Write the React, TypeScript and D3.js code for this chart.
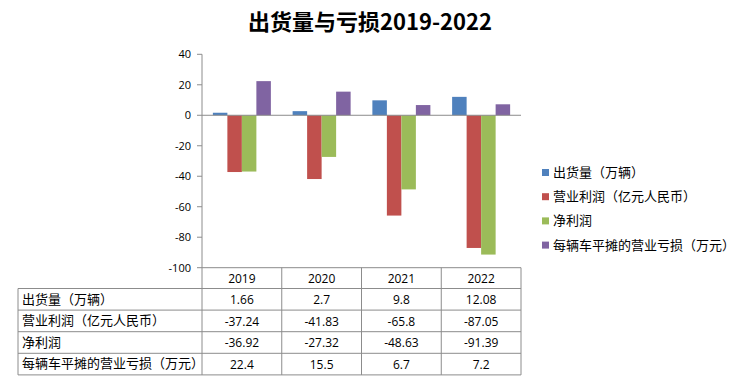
import React from "react";
import * as d3 from "d3";

const years = ["2019", "2020", "2021", "2022"];
const seriesNames = ["出货量（万辆）", "营业利润（亿元人民币）", "净利润", "每辆车平摊的营业亏损（万元）"];
const shipments = [1.66, 2.7, 9.8, 12.08];
const operatingProfit = [-37.24, -41.83, -65.8, -87.05];
const netProfit = [-36.92, -27.32, -48.63, -91.39];
const lossPerVehicle = [22.4, 15.5, 6.7, 7.2];
const yTicks = [40, 20, 0, -20, -40, -60, -80, -100];
const colors = ["#4F81BD", "#C0504D", "#9BBB59", "#8064A2"];
const title = "出货量与亏损2019-2022";

const W = 740, H = 381;
const plotL = 202, plotR = 521, plotT = 54.3, plotB = 267.7;
const tableL = 18;
const rowH = 21.6;
const CJK = "'Noto Sans CJK SC', 'Noto Sans', sans-serif";
const NUM = "'Open Sans', 'Noto Sans', sans-serif";
const GRID = "#8c8c8c";

export default function App() {
  const series = [shipments, operatingProfit, netProfit, lossPerVehicle];
  const x0 = d3.scaleBand().domain(years).range([plotL, plotR]).paddingInner(0).paddingOuter(0);
  const innerPad = (x0.bandwidth() - 58) / 2;
  const x1 = d3.scaleBand().domain(d3.range(4).map(String)).range([innerPad, x0.bandwidth() - innerPad]).padding(0);
  const y = d3.scaleLinear().domain([-100, 40]).range([plotB, plotT]);
  const labelsFmt = (v: number) => String(v);

  const rowTops = d3.range(5).map((i) => plotB + 20.8 + i * rowH);

  return (
    <svg width={W} height={H} style={{ position: "absolute", left: 0, top: 0, background: "#fff" }}>
      <text x={370} y={30} textAnchor="middle" fontFamily={CJK} fontWeight="bold" fontSize={22} fill="#000">
        {title}
      </text>
      {/* bars */}
      {years.map((yr, i) => (
        <g key={yr}>
          {series.map((s, j) => {
            const v = s[i];
            const yTop = y(Math.max(0, v));
            const yBot = y(Math.min(0, v));
            return (
              <rect key={j} x={(x0(yr) as number) + (x1(String(j)) as number)} y={yTop} width={x1.bandwidth()} height={yBot - yTop} fill={colors[j]} />
            );
          })}
        </g>
      ))}
      {/* zero line */}
      <line x1={plotL} x2={plotR} y1={y(0)} y2={y(0)} stroke={GRID} strokeWidth={1} />
      {/* y axis */}
      <line x1={plotL} x2={plotL} y1={plotT} y2={plotB} stroke={GRID} strokeWidth={1} />
      {yTicks.map((t) => (
        <g key={t}>
          <line x1={plotL - 5} x2={plotL} y1={y(t)} y2={y(t)} stroke={GRID} />
          <text x={plotL - 11} y={y(t) + 4} textAnchor="end" fontFamily={NUM} fontSize={11} fill="#000">
            {labelsFmt(t)}
          </text>
        </g>
      ))}
      {/* table */}
      <line x1={plotL} x2={plotR} y1={plotB} y2={plotB} stroke={GRID} />
      {rowTops.map((ry, i) => (
        <line key={i} x1={tableL} x2={plotR} y1={ry} y2={ry} stroke={GRID} />
      ))}
      <line x1={tableL} x2={tableL} y1={rowTops[0]} y2={rowTops[4]} stroke={GRID} />
      {years.map((yr) => (
        <line key={yr} x1={x0(yr) as number} x2={x0(yr) as number} y1={plotB} y2={rowTops[4]} stroke={GRID} />
      ))}
      <line x1={plotR} x2={plotR} y1={plotB} y2={rowTops[4]} stroke={GRID} />
      {years.map((yr) => (
        <text key={yr} x={(x0(yr) as number) + x0.bandwidth() / 2} y={plotB + 15} textAnchor="middle" fontFamily={NUM} fontSize={12} fill="#000">
          {yr}
        </text>
      ))}
      {seriesNames.map((name, j) => (
        <g key={name}>
          <text x={tableL + 4} y={rowTops[j] + 15} fontFamily={CJK} fontSize={13} fill="#000">
            {name}
          </text>
          {years.map((yr, i) => (
            <text key={yr} x={(x0(yr) as number) + x0.bandwidth() / 2} y={rowTops[j] + 15.5} textAnchor="middle" fontFamily={NUM} fontSize={12} fill="#000">
              {series[j][i]}
            </text>
          ))}
        </g>
      ))}
      {/* legend */}
      {seriesNames.map((name, j) => (
        <g key={name}>
          <rect x={542} y={169 + j * 24.2} width={7} height={7} fill={colors[j]} />
          <text x={553} y={177 + j * 24.2} fontFamily={CJK} fontSize={13} fill="#000">
            {name}
          </text>
        </g>
      ))}
    </svg>
  );
}
